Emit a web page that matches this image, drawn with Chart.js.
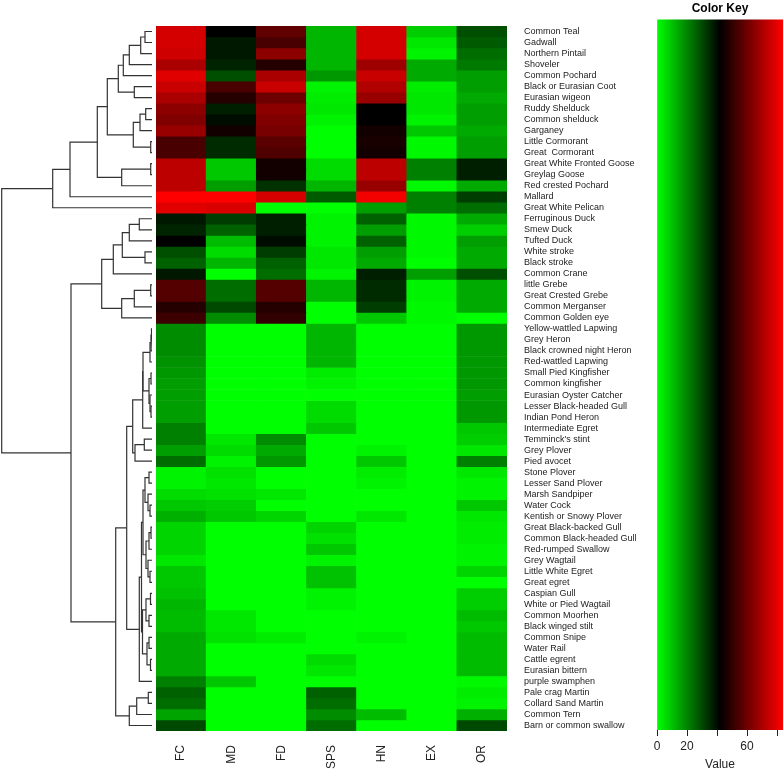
<!DOCTYPE html>
<html>
<head>
<meta charset="utf-8">
<script src="https://cdn.jsdelivr.net/npm/chart.js@4.4.1/dist/chart.umd.min.js"></script>
<style>
  body { margin: 0; background: #fff; width: 784px; height: 774px; position: relative; overflow: hidden; }
  canvas { position: absolute; top: 0; }
  #tree { left: 0; }
  #heat { left: 156px; }
  #key { left: 640px; }
</style>
</head>
<body>
<canvas id="tree" width="156" height="774"></canvas>
<canvas id="heat" width="484" height="774"></canvas>
<canvas id="key" width="144" height="774"></canvas>
<script>
var columnNames = ["FC", "MD", "FD", "SPS", "HN", "EX", "OR"];

var species = ["Common Teal", "Gadwall", "Northern Pintail", "Shoveler", "Common Pochard",
  "Black or Eurasian Coot", "Eurasian wigeon", "Ruddy Shelduck", "Common shelduck", "Garganey",
  "Little Cormorant", "Great  Cormorant", "Great White Fronted Goose", "Greylag Goose",
  "Red crested Pochard", "Mallard", "Great White Pelican", "Ferruginous Duck", "Smew Duck",
  "Tufted Duck", "White stroke", "Black stroke", "Common Crane", "little Grebe",
  "Great Crested Grebe", "Common Merganser", "Common Golden eye", "Yellow-wattled Lapwing",
  "Grey Heron", "Black crowned night Heron", "Red-wattled Lapwing", "Small Pied Kingfisher",
  "Common kingfisher", "Eurasian Oyster Catcher", "Lesser Black-headed Gull", "Indian Pond Heron",
  "Intermediate Egret", "Temminck's stint", "Grey Plover", "Pied avocet", "Stone Plover",
  "Lesser Sand Plover", "Marsh Sandpiper", "Water Cock", "Kentish or Snowy Plover",
  "Great Black-backed Gull", "Common Black-headed Gull", "Red-rumped Swallow", "Grey Wagtail",
  "Little White Egret", "Great egret", "Caspian Gull", "White or Pied Wagtail", "Common Moorhen",
  "Black winged stilt", "Common Snipe", "Water Rail", "Cattle egrent", "Eurasian bittern",
  "purple swamphen", "Pale crag Martin", "Collard Sand Martin", "Common Tern",
  "Barn or common swallow"];

// one array per column, top row first
var fc  = [77,77,76,70,79,75,70,65,63,67, 54,54,73,73,73,84,79,38,36,42, 29,26,38,56,56,48,52,19,19,19,
           18,17,16,16,16,16,21,21,16,24, 2,2,6,9,13,7,7,7,4,9, 9,10,12,11,11,14,14,14,14,21, 26,24,15,30];
var md  = [42,38,38,36,29,54,48,37,40,45, 35,35,9,9,16,84,78,32,26,11, 6,12,0,24,24,30,19,0,0,0,
           0,0,0,0,0,0,0,4,6,2, 5,4,5,8,9,0,0,0,0,0, 0,0,0,4,4,5,0,0,0,9, 0,0,0,0];
var fd  = [58,54,65,48,70,75,60,65,63,62, 57,55,45,45,34,77,0,37,37,40, 32,26,24,56,56,48,50,0,0,0,
           0,0,0,0,0,0,0,19,14,17, 0,0,4,0,7,0,0,0,0,0, 0,0,0,0,0,3,0,0,0,0, 0,0,0,0];
var sps = [12,12,12,12,17,2,3,4,2,0, 0,0,6,6,12,27,0,2,2,2, 4,4,2,12,12,0,0,12,12,12,
           12,3,2,0,6,6,9,0,0,0, 0,0,0,0,0,7,5,9,2,10, 10,2,2,0,0,0,0,6,4,0, 26,24,19,24];
var hn  = [77,77,77,68,75,71,67,42,42,45, 46,45,73,73,67,82,16,26,16,26, 16,14,37,35,35,32,9,0,0,0,
           0,0,0,0,0,0,0,0,2,9, 3,2,0,0,4,0,0,0,0,0, 0,0,0,0,0,2,0,0,0,0, 0,0,11,0];
var ex  = [8,4,2,14,14,3,4,4,2,9, 1,1,21,21,1,21,21,1,1,1, 1,0,16,2,2,1,1,0,0,0,
           0,0,0,0,0,0,0,0,0,0, 0,0,0,0,0,0,0,0,0,0, 0,0,0,0,0,0,0,0,0,0, 0,0,0,0];
var or  = [29,27,24,22,16,16,14,16,16,14, 16,16,37,37,14,32,24,14,8,16, 14,14,29,14,14,14,0,17,17,17,
           17,17,17,16,17,17,9,8,4,21, 4,2,2,9,4,3,3,2,2,7, 0,8,8,11,9,11,11,11,11,1, 3,2,13,30];

var columns = [fc, md, fd, sps, hn, ex, or];

var valueMax = 84;
var keyTicks = [0, 20, 40, 60, 80];
var keyShown = [0, 20, 60];

// row dendrogram: [left, right, merge height], leaves are row numbers (1 = top)
var redGroup = [[[[[[[[[1, 2, 7], 3, 11.3], 4, 22.7], 5, 28.7], [6, 7, 17.7], 33.7],
                    [[[8, 9, 6.3], 10, 12], [11, 12, 1.3], 18.7], 44.7],
                   [[13, 14, 1.3], 15, 30.3], 54.7], 16, 82], 17, 99.3];
var duckGroup = [[[[[18, 19, 12.7], 20, 22.7], [21, 22, 7], 29.7], 23, 38.7],
                 [[[24, 25, 1.3], 26, 17.7], 27, 30.3], 50.3];
var shoreA = [[[[[[28, 29, 0.5], 30, 1], 31, 2], [[32, 33, 1], [34, [35, 36, 1], 2], 3], 9], 37, 9.3],
              [[38, 39, 7.7], 40, 17], 19.3];
var shoreB = [[[[[41, 42, 3], [43, [44, 45, 2], 4], 7], [[[46, 47, 1], 48, 3], [49, [50, 51, 2], 4], 6], 9],
               [[[52, 53, 1.5], [54, 55, 3], 6], [[56, 57, 3], [58, 59, 1.5], 5], 9.5], 10.5], 60, 12.7];
var martins = [[[61, 62, 3.7], 63, 15.3], 64, 22.7];
var tree = [redGroup, [duckGroup, [[shoreA, shoreB, 25.3], martins, 36.3], 81], 150.3];

function rampColor(v) {
  var t = Math.max(0, Math.min(1, v / valueMax));
  if (t < 0.5) return 'rgb(0,' + Math.round(255 * (1 - 2 * t)) + ',0)';
  return 'rgb(' + Math.round(255 * (2 * t - 1)) + ',0,0)';
}

var font = "'Liberation Sans', Arial, sans-serif";

// dendrogram
var segs = [];
function place(node) {
  if (typeof node === 'number') return {y: node - 0.5, h: 0};
  var a = place(node[0]), b = place(node[1]), h = node[2];
  segs.push([{x: a.h, y: a.y}, {x: h, y: a.y}, {x: h, y: b.y}, {x: b.h, y: b.y}]);
  return {y: (a.y + b.y) / 2, h: h};
}
place(tree);

new Chart(document.getElementById('tree'), {
  type: 'scatter',
  data: {
    datasets: segs.map(function(s) {
      return {data: s, showLine: true, borderColor: '#333', borderWidth: 1.2, pointRadius: 0, tension: 0, fill: false};
    })
  },
  options: {
    responsive: false,
    animation: false,
    layout: {padding: {top: 26, bottom: 43, left: 1, right: 4}},
    plugins: {legend: {display: false}, tooltip: {enabled: false}},
    scales: {
      x: {type: 'linear', min: 0, max: 151, reverse: true, display: false},
      y: {type: 'linear', min: 0, max: 64, reverse: true, display: false}
    }
  }
});

// heatmap: one stacked dataset per row
var heatSets = species.map(function(name, i) {
  var vals = columns.map(function(c) { return c[i]; });
  return {
    label: name,
    data: vals.map(function() { return 1; }),
    backgroundColor: vals.map(rampColor),
    borderWidth: 0,
    barPercentage: 1,
    categoryPercentage: 1
  };
});

new Chart(document.getElementById('heat'), {
  type: 'bar',
  data: {labels: columnNames, datasets: heatSets},
  options: {
    responsive: false,
    animation: false,
    layout: {padding: {top: 26, left: 0, right: 0, bottom: 0}},
    plugins: {legend: {display: false}, tooltip: {enabled: false}},
    scales: {
      x: {
        stacked: true,
        grid: {display: false, drawTicks: false},
        border: {display: false},
        ticks: {minRotation: 90, maxRotation: 90, padding: 14, color: '#222', font: {family: font, size: 12}},
        afterFit: function(axis) { axis.height = 43; }
      },
      y: {stacked: true, min: 0, max: 64, reverse: true, display: false},
      y2: {
        type: 'category',
        labels: species,
        position: 'right',
        offset: true,
        grid: {display: false, drawTicks: false},
        border: {display: false},
        ticks: {autoSkip: false, padding: 17, color: '#222', font: {family: font, size: 9}},
        afterFit: function(axis) { axis.width = 133; }
      }
    }
  }
});

// colour key: one floating bar over the whole value range, filled green-black-red
function keyFill(c) {
  var a = c.chart.chartArea;
  if (!a) return '#000';
  var g = c.chart.ctx.createLinearGradient(a.left, 0, a.right, 0);
  g.addColorStop(0, rampColor(0));
  g.addColorStop(0.5, rampColor(valueMax / 2));
  g.addColorStop(1, rampColor(valueMax));
  return g;
}

new Chart(document.getElementById('key'), {
  type: 'bar',
  data: {
    labels: ['key'],
    datasets: [{
      data: [[0, valueMax]],
      backgroundColor: keyFill,
      borderWidth: 0,
      barPercentage: 1,
      categoryPercentage: 1
    }]
  },
  options: {
    indexAxis: 'y',
    responsive: false,
    animation: false,
    layout: {padding: {top: 0, left: 17, right: 1, bottom: 0}},
    plugins: {
      legend: {display: false},
      tooltip: {enabled: false},
      title: {display: true, text: 'Color Key', color: '#000', padding: {top: 1, bottom: 4},
              font: {family: font, size: 12, weight: 'bold'}}
    },
    scales: {
      x: {
        type: 'linear', min: 0, max: valueMax,
        grid: {drawOnChartArea: false, drawTicks: true, tickLength: 6, color: '#222'},
        border: {display: false},
        afterBuildTicks: function(axis) { axis.ticks = keyTicks.map(function(v) { return {value: v}; }); },
        ticks: {
          padding: 3, color: '#222', font: {family: font, size: 12},
          callback: function(v) { return keyShown.indexOf(v) >= 0 ? String(v) : ''; }
        },
        title: {display: true, text: 'Value', color: '#222', padding: {top: 0, bottom: 2}, font: {family: font, size: 12}},
        afterFit: function(axis) { axis.height = 44; }
      },
      y: {display: false}
    }
  }
});
</script>
</body>
</html>
